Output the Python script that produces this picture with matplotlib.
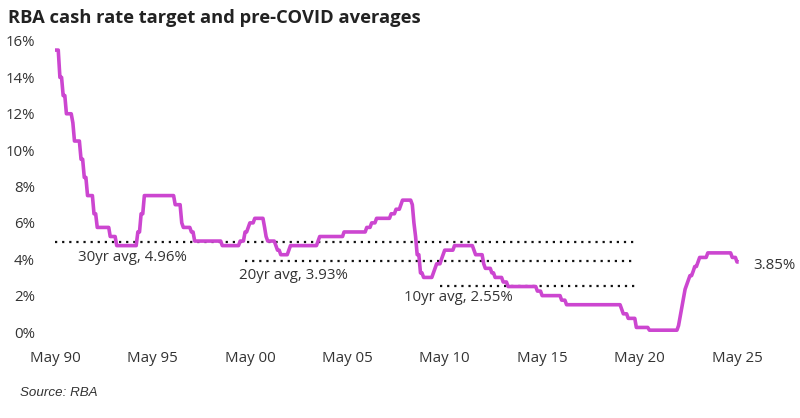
import matplotlib
matplotlib.use("Agg")
import matplotlib.pyplot as plt
import pandas as pd

# ---- data: RBA cash rate target decisions (upper bound where a range) ----
change_dates = [
    "1990-05-01", "1990-08-02", "1990-10-15", "1990-12-18", "1991-04-04", "1991-05-16",
    "1991-09-03", "1991-11-06", "1992-01-08", "1992-05-06", "1992-07-08", "1993-03-23",
    "1993-07-30", "1994-08-17", "1994-10-24", "1994-12-14", "1996-07-31", "1996-11-06",
    "1996-12-11", "1997-05-23", "1997-07-30", "1998-12-02", "1999-11-03", "2000-02-02",
    "2000-04-05", "2000-05-03", "2000-08-02", "2001-02-07", "2001-03-07", "2001-04-04",
    "2001-09-05", "2001-10-03", "2001-12-05", "2002-05-08", "2002-06-05", "2003-11-05",
    "2003-12-03", "2005-03-02", "2006-05-03", "2006-08-02", "2006-11-08", "2007-08-08",
    "2007-11-07", "2008-02-06", "2008-03-05", "2008-09-03", "2008-10-08", "2008-11-05",
    "2008-12-03", "2009-02-04", "2009-04-08", "2009-10-07", "2009-11-04", "2009-12-02",
    "2010-03-03", "2010-04-07", "2010-05-05", "2010-11-03", "2011-11-02", "2011-12-07",
    "2012-05-02", "2012-06-06", "2012-10-03", "2012-12-05", "2013-05-08", "2013-08-07",
    "2015-02-04", "2015-05-06", "2016-05-04", "2016-08-03", "2019-06-05", "2019-07-03",
    "2019-10-02", "2020-03-04", "2020-03-20", "2020-11-04", "2022-05-04", "2022-06-08",
    "2022-07-06", "2022-08-03", "2022-09-07", "2022-10-05", "2022-11-02", "2022-12-07",
    "2023-02-08", "2023-03-08", "2023-05-03", "2023-06-07", "2023-11-08", "2025-02-19",
    "2025-05-21",
]
cash_rate = [
    15.50, 14.00, 13.00, 12.00, 11.50, 10.50,
    9.50, 8.50, 7.50, 6.50, 5.75, 5.25,
    4.75, 5.50, 6.50, 7.50, 7.00, 6.00,
    5.75, 5.50, 5.00, 4.75, 5.00, 5.50,
    5.75, 6.00, 6.25, 5.75, 5.25, 5.00,
    4.75, 4.50, 4.25, 4.50, 4.75, 5.00,
    5.25, 5.50, 5.75, 6.00, 6.25, 6.50,
    6.75, 7.00, 7.25, 7.00, 6.00, 5.25,
    4.25, 3.25, 3.00, 3.25, 3.50, 3.75,
    4.00, 4.25, 4.50, 4.75, 4.50, 4.25,
    3.75, 3.50, 3.25, 3.00, 2.75, 2.50,
    2.25, 2.00, 1.75, 1.50, 1.25, 1.00,
    0.75, 0.50, 0.25, 0.10, 0.35, 0.85,
    1.35, 1.85, 2.35, 2.60, 2.85, 3.10,
    3.35, 3.60, 3.85, 4.10, 4.35, 4.10,
    3.85,
]
series_start, series_end = "1990-05-01", "2025-06-01"

avg_labels = ["30yr avg, 4.96%", "20yr avg, 3.93%", "10yr avg, 2.55%"]
avg_values = [4.96, 3.93, 2.55]
avg_starts = ["1990-05-01", "2000-02-01", "2010-02-01"]
avg_end = "2020-02-15"
latest_label = "3.85%"

y_ticks = [0, 2, 4, 6, 8, 10, 12, 14, 16]
x_tick_years = [1990, 1995, 2000, 2005, 2010, 2015, 2020, 2025]

# ---- monthly series (rate in effect at each month end) ----
s = pd.Series(cash_rate, index=pd.to_datetime(change_dates))
months = pd.date_range(series_start, series_end, freq="MS")
monthly = [s.asof(m + pd.offsets.MonthEnd(0)) for m in months]

LINE = "#CC46D0"
TXT = "#333333"
FONT = "Open Sans"
FS = 10.8

fig = plt.figure(figsize=(8, 4.18), dpi=100)
W, H = 800, 418
x0, x1 = 55, 737
y0, y1 = 332, 41
ax = fig.add_axes([x0 / W, (H - y0) / H, (x1 - x0) / W, (y0 - y1) / H])
ax.set_xlim(pd.Timestamp("1990-05-01"), pd.Timestamp("2025-05-01"))
ax.set_ylim(0, 16)

ax.plot(months, monthly, color=LINE, lw=2.6, clip_on=False, solid_joinstyle="round",
        solid_capstyle="butt", zorder=3)

for lab, v, st in zip(avg_labels, avg_values, avg_starts):
    ax.plot([pd.Timestamp(st), pd.Timestamp(avg_end)], [v, v], color="#111111",
            lw=1.6, linestyle=(0, (1, 2.2)), clip_on=False, zorder=2)

text_pos = [("1991-07-10", 4.12), ("1999-10-15", 3.13), ("2008-03-20", 1.92)]
for lab, (d, yv) in zip(avg_labels, text_pos):
    ax.text(pd.Timestamp(d), yv, lab, fontsize=FS, color=TXT, family=FONT,
            ha="left", va="center", clip_on=False)
ax.text(pd.Timestamp("2026-03-10"), 3.68, latest_label, fontsize=FS, color=TXT,
        family=FONT, ha="left", va="center", clip_on=False)

for sp in ax.spines.values():
    sp.set_visible(False)
ax.set_yticks(y_ticks)
ax.set_yticklabels([f"{t}%" for t in y_ticks], family=FONT, fontsize=FS, color=TXT)
ax.set_xticks([pd.Timestamp(f"{y}-05-01") for y in x_tick_years])
ax.set_xticklabels([f"May {str(y)[2:]}" for y in x_tick_years], family=FONT,
                   fontsize=FS, color=TXT)
ax.tick_params(axis="y", length=0, pad=14.5)
ax.tick_params(axis="x", length=0, pad=13.5)
ax.set_facecolor("none")

fig.text(8 / W, 1 - 18 / H, "RBA cash rate target and pre-COVID averages",
         fontsize=13.2, fontweight="bold", family=FONT, color="#222222",
         ha="left", va="center")
fig.text(20 / W, 1 - 393 / H, "Source: RBA", fontsize=9.6, style="italic",
         family="Liberation Sans", color=TXT, ha="left", va="center")

fig.savefig("out.png", dpi=100, facecolor="white")
